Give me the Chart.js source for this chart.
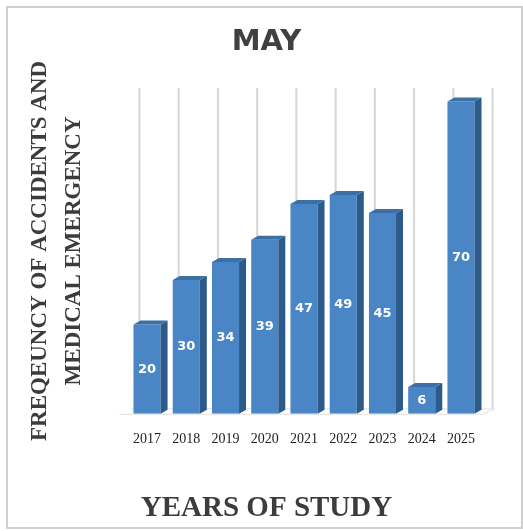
<!DOCTYPE html>
<html>
<head>
<meta charset="utf-8">
<title>May</title>
<script src="https://cdn.jsdelivr.net/npm/chart.js@4"></script>
<style>
  body { margin: 0; background: #fff; }
  canvas { display: block; }
</style>
</head>
<body>
<canvas id="mayChart" width="523" height="531"></canvas>
<script>
var years = ["2017", "2018", "2019", "2020", "2021", "2022", "2023", "2024", "2025"];
var counts = [20, 30, 34, 39, 47, 49, 45, 6, 70];
var yTitle = ["FREQEUNCY OF ACCIDENTS AND", "MEDICAL EMERGENCY"];

var frontColor = "#4a86c6";
var sideColor = "#2c5a8a";
var topColor = "#3b6fa6";
var depthX = 7, depthY = 4;

// white page + thin frame round the whole figure
const framePlugin = {
    id: "frame",
    beforeDraw(chart) {
        const c = chart.ctx;
        c.save();
        c.fillStyle = "#fff";
        c.fillRect(0, 0, chart.width, chart.height);
        c.strokeStyle = "#cfcfcf";
        c.lineWidth = 2;
        c.strokeRect(7, 7, 515, 521);
        c.restore();
    }
};

// back wall grid lines and floor, shifted back for the 3d look
const wallPlugin = {
    id: "wall",
    beforeDatasetsDraw(chart) {
        const c = chart.ctx;
        const area = chart.chartArea;
        const x = chart.scales.x;
        const step = x.getPixelForValue(1) - x.getPixelForValue(0);
        c.save();
        c.strokeStyle = "#d6d6d6";
        c.lineWidth = 2;
        for (let i = 0; i <= years.length; i++) {
            let gx = x.getPixelForValue(i) - step / 2 + 12;
            c.beginPath();
            c.moveTo(gx, area.top);
            c.lineTo(gx, area.bottom - 5);
            c.stroke();
        }
        // floor
        c.strokeStyle = "#e2e2e2";
        c.lineWidth = 1;
        c.beginPath();
        c.moveTo(area.left - 8, area.bottom + 0.5);
        c.lineTo(area.right + 2, area.bottom + 0.5);
        c.lineTo(area.right + 14, area.bottom - 5);
        c.lineTo(area.left + 4, area.bottom - 5);
        c.stroke();
        c.restore();
    }
};

// side and top faces of each bar, then the value in the middle of the front
const bar3dPlugin = {
    id: "bar3d",
    afterDatasetsDraw(chart) {
        const c = chart.ctx;
        const meta = chart.getDatasetMeta(0);
        c.save();
        meta.data.forEach((bar, i) => {
            const half = bar.width / 2;
            const l = bar.x - half, r = bar.x + half;
            c.fillStyle = sideColor;
            c.beginPath();
            c.moveTo(r, bar.y);
            c.lineTo(r + depthX, bar.y - depthY);
            c.lineTo(r + depthX, bar.base - depthY);
            c.lineTo(r, bar.base);
            c.closePath();
            c.fill();
            c.fillStyle = topColor;
            c.beginPath();
            c.moveTo(l, bar.y);
            c.lineTo(l + depthX, bar.y - depthY);
            c.lineTo(r + depthX, bar.y - depthY);
            c.lineTo(r, bar.y);
            c.closePath();
            c.fill();

            c.fillStyle = "#fff";
            c.font = "bold 13px 'DejaVu Sans'";
            c.textAlign = "center";
            c.textBaseline = "middle";
            c.fillText(counts[i], bar.x, (bar.y + bar.base) / 2);
        });
        c.restore();
    }
};

const ctx = document.getElementById("mayChart").getContext("2d");
const mayChart = new Chart(ctx, {
    type: "bar",
    data: {
        labels: years,
        datasets: [{
            data: counts,
            backgroundColor: frontColor,
            borderWidth: 0,
            barPercentage: 0.69,
            categoryPercentage: 1.0
        }]
    },
    options: {
        responsive: false,
        animation: false,
        events: [],
        layout: { padding: { left: 52.4, right: 42.4, top: 0, bottom: 5 } },
        scales: {
            x: {
                grid: { display: false, drawTicks: false },
                border: { display: false },
                ticks: {
                    padding: 17,
                    color: "#222",
                    font: { family: "'Liberation Serif'", size: 14 }
                }
            },
            y: {
                min: 0,
                max: 73,
                grid: { display: false, drawTicks: false },
                border: { display: false },
                ticks: { display: false },
                title: {
                    display: true,
                    text: yTitle,
                    color: "#3c3c3c",
                    font: { family: "'Liberation Serif'", size: 23, weight: "bold", lineHeight: 34 / 23 },
                    padding: { top: -29.4, bottom: 36.4 }
                }
            }
        },
        plugins: {
            legend: { display: false },
            tooltip: { enabled: false },
            title: {
                display: true,
                text: "MAY",
                color: "#404040",
                font: { family: "'DejaVu Sans'", size: 29, weight: "bold", lineHeight: 1.2 },
                padding: { top: 25.1, bottom: 28.1 }
            },
            subtitle: {
                display: true,
                position: "bottom",
                text: "YEARS OF STUDY",
                color: "#3c3c3c",
                font: { family: "'Liberation Serif'", size: 29, weight: "bold", lineHeight: 1.2 },
                padding: { top: 26.6, bottom: 0 }
            }
        }
    },
    plugins: [framePlugin, wallPlugin, bar3dPlugin]
});
</script>
</body>
</html>
